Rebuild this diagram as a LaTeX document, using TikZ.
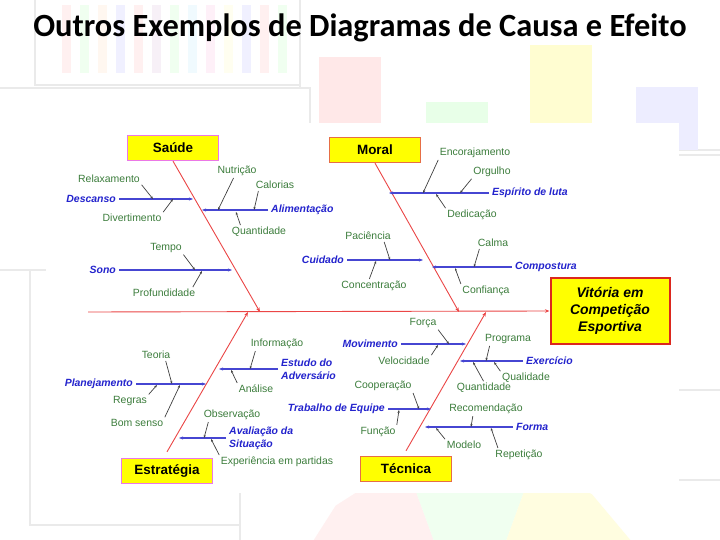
\documentclass[tikz,border=0pt]{standalone}
\usepackage{fontspec}
\setmainfont{Liberation Sans}
\newfontfamily\titlefont{Carlito}
\usetikzlibrary{positioning,arrows.meta,calc}
\definecolor{BoneRed}{RGB}{235,70,70}
\definecolor{CauseBlue}{RGB}{35,35,205}
\definecolor{BranchBlue}{RGB}{70,70,210}
\definecolor{LeafGreen}{RGB}{60,125,60}
\definecolor{BoxYellow}{RGB}{255,255,0}
\definecolor{EdgeMagenta}{RGB}{235,120,230}
\definecolor{EdgeOrange}{RGB}{230,110,70}
\definecolor{EffectRed}{RGB}{220,40,30}
\definecolor{FadeFrame}{RGB}{234,234,234}

\begin{document}
\begin{tikzpicture}[x=1bp, y=-1bp,
  every node/.style={inner sep=1pt},
  leaf/.style={font=\fontsize{10.5}{12}\selectfont, text=LeafGreen},
  cause/.style={font=\fontsize{10.5}{13}\selectfont\bfseries\itshape, text=CauseBlue, align=left},
  catbox/.style={draw, line width=1.3bp, fill=BoxYellow, minimum width=91bp, minimum height=25bp,
                 font=\fontsize{13.5}{15}\selectfont\bfseries},
  bone/.style={BoneRed, line width=0.9bp, -{Stealth[length=4.5bp,width=3.5bp]}},
  branch/.style={BranchBlue, line width=1.1bp, shorten <=2bp, -{Stealth[length=4bp,width=3bp]}},
  tick/.style={black!75, line width=0.7bp, shorten <=1bp, -{Stealth[length=3bp,width=2.2bp]}}]

  \useasboundingbox (0,0) rectangle (720,540);
  \fill[white] (0,0) rectangle (720,540);

  \draw[FadeFrame, line width=2bp, fill=white] (35,-5) rectangle (300,85);
  \foreach \x/\c in {62/red,80/green,98/orange,116/blue,134/red,152/violet,170/green,188/cyan,
                     206/magenta,224/yellow,242/blue,260/red,278/green}
    \fill[\c!6] (\x,5) rectangle ++(9,68);
  \draw[FadeFrame, line width=2bp, fill=white] (300,-5) rectangle (725,150);
  \fill[red!9] (319,57) rectangle (381,150);
  \fill[green!9] (426,102) rectangle (488,150);
  \fill[yellow!18] (530,45) rectangle (592,150);
  \fill[blue!7] (636,87) rectangle (698,150);
  \draw[FadeFrame, line width=2bp, fill=white] (-5,88) rectangle (310,270);
  \draw[FadeFrame, line width=2bp, fill=white] (640,155) rectangle (725,390);
  \draw[FadeFrame, line width=2bp, fill=white] (30,270) rectangle (260,525);
  \draw[FadeFrame, line width=2bp, fill=white] (240,480) rectangle (725,545);
  \fill[red!6] (470,640) -- +(200:190) -- +(225:190) -- +(250:190) -- cycle;
  \fill[green!6] (470,640) -- +(250:190) -- +(270:190) -- +(290:190) -- cycle;
  \fill[yellow!12] (470,640) -- +(290:190) -- +(310:190) -- +(330:190) -- cycle;
  \fill[blue!5] (470,640) -- +(330:190) -- +(345:190) -- +(360:190) -- cycle;

  \fill[white] (46,123) rectangle (679,493);

  \node[font=\titlefont\bfseries\fontsize{32.5}{38}\selectfont] (titulo) at (360,28)
    {Outros Exemplos de Diagramas de Causa e Efeito};

  \node[catbox, draw=EdgeMagenta] (saude) at (173,148) {Saúde};
  \node[catbox, draw=EdgeOrange] (moral) at (375,150) {Moral};
  \node[catbox, draw=EdgeMagenta] (estrategia) at (167,471) {Estratégia};
  \node[catbox, draw=EdgeOrange] (tecnica) at (406,469) {Técnica};
  \node[draw=EffectRed, line width=2bp, fill=BoxYellow, minimum width=119bp, minimum height=65bp,
        align=center, font=\fontsize{14}{17}\selectfont\bfseries\itshape] (vitoria) at (610,311)
    {Vitória em\\Competição\\Esportiva};

  \coordinate (cauda) at (88,312);
  \coordinate (saudeEnd) at (260,312);
  \coordinate (moralEnd) at (459,312);
  \coordinate (estrategiaEnd) at (248,312);
  \coordinate (tecnicaEnd) at (486,312);
  \draw[bone] (cauda) -- (vitoria.west);
  \draw[bone] (saude.south) -- (saudeEnd);
  \draw[bone] (moral.south) -- (moralEnd);
  \draw[bone] ([yshift=6bp]estrategia.north) -- (estrategiaEnd);
  \draw[bone] ([yshift=5bp]tecnica.north) -- (tecnicaEnd);

  \node[cause, anchor=east] (descanso) at (117,199) {Descanso};
  \node[cause, anchor=west] (alimentacao) at (270,210) {Alimentação};
  \node[cause, anchor=east] (sono) at (117,270) {Sono};
  \node[cause, anchor=east] (cuidado) at (345,260) {Cuidado};
  \node[cause, anchor=west] (espirito) at (491,193) {Espírito de luta};
  \node[cause, anchor=west] (compostura) at (514,267) {Compostura};
  \node[cause, anchor=west] (estudo) at (280,369) {Estudo do\\Adversário};
  \node[cause, anchor=east] (planejamento) at (134,384) {Planejamento};
  \node[cause, anchor=west] (avaliacao) at (228,438) {Avaliação da\\Situação};
  \node[cause, anchor=east] (movimento) at (399,344) {Movimento};
  \node[cause, anchor=west] (exercicio) at (525,361) {Exercício};
  \node[cause, anchor=east] (trabalho) at (386,409) {Trabalho de Equipe};
  \node[cause, anchor=west] (forma) at (515,427) {Forma};

  \foreach \n/\x/\y in {descanso/193/199, alimentacao/202/210, sono/232/270, cuidado/423/260,
                        espirito/389/193, compostura/432/267, estudo/219/369, planejamento/206/384,
                        avaliacao/179/438, movimento/466/344, exercicio/460/361, trabalho/431/409,
                        forma/425/427}
    \coordinate (\n-tip) at (\x,\y);
  \foreach \n in {descanso,sono,cuidado,espirito,compostura,estudo,planejamento,avaliacao,
                  movimento,trabalho,forma}
    \draw[branch] (\n) -- (\n-tip);
  \foreach \n in {alimentacao,exercicio}
    \draw[branch, line width=2.4bp] (\n) -- (\n-tip);

  \node[leaf] (relaxamento) at (109,179) {Relaxamento};
  \node[leaf] (divertimento) at (132,218) {Divertimento};
  \node[leaf] (nutricao) at (237,171) {Nutrição};
  \node[leaf] (calorias) at (275,185) {Calorias};
  \node[leaf] (quantidadeA) at (259,232) {Quantidade};
  \node[leaf] (tempo) at (166,248) {Tempo};
  \node[leaf] (profundidade) at (164,293) {Profundidade};
  \node[leaf] (encorajamento) at (475,153) {Encorajamento};
  \node[leaf] (orgulho) at (492,172) {Orgulho};
  \node[leaf] (dedicacao) at (472,215) {Dedicação};
  \node[leaf] (paciencia) at (368,236) {Paciência};
  \node[leaf] (concentracao) at (374,286) {Concentração};
  \node[leaf] (calma) at (493,243) {Calma};
  \node[leaf] (confianca) at (486,291) {Confiança};
  \node[leaf] (informacao) at (277,344) {Informação};
  \node[leaf] (analise) at (256,389) {Análise};
  \node[leaf] (teoria) at (156,355) {Teoria};
  \node[leaf] (regras) at (130,401) {Regras};
  \node[leaf] (bomsenso) at (137,423) {Bom senso};
  \node[leaf] (observacao) at (232,415) {Observação};
  \node[leaf] (experiencia) at (277,462) {Experiência em partidas};
  \node[leaf] (forca) at (423,323) {Força};
  \node[leaf] (velocidade) at (404,361) {Velocidade};
  \node[leaf] (programa) at (508,339) {Programa};
  \node[leaf] (qualidade) at (526,378) {Qualidade};
  \node[leaf] (quantidadeB) at (484,388) {Quantidade};
  \node[leaf] (cooperacao) at (383,386) {Cooperação};
  \node[leaf] (funcao) at (378,432) {Função};
  \node[leaf] (recomendacao) at (486,409) {Recomendação};
  \node[leaf] (modelo) at (464,445) {Modelo};
  \node[leaf] (repeticao) at (519,455) {Repetição};

  \foreach \n/\x/\y in {relaxamento/153/199, divertimento/173/199, nutricao/218/210,
                        calorias/254/210, quantidadeA/236/212, tempo/195/270, profundidade/202/271,
                        encorajamento/423/193, orgulho/460/193, dedicacao/436/194,
                        paciencia/390/260, concentracao/376/261, calma/474/267, confianca/455/268,
                        informacao/250/369, analise/231/370, teoria/172/384, regras/157/385,
                        bomsenso/180/385, observacao/204/438, experiencia/211/439,
                        forca/449/344, velocidade/438/345, programa/486/361, qualidade/494/362,
                        quantidadeB/473/362, cooperacao/419/409, funcao/399/410,
                        recomendacao/471/427, modelo/436/428, repeticao/491/428}
    \coordinate (\n-tip) at (\x,\y);
  \foreach \n/\a/\dx in {relaxamento/south east/0, divertimento/north east/0, nutricao/south/-3,
                         calorias/south west/4, quantidadeA/north west/10, tempo/south east/0,
                         profundidade/north east/-4, encorajamento/south west/0, orgulho/south west/0,
                         dedicacao/north west/0, paciencia/south east/-8, concentracao/north/-5,
                         calma/south west/3, confianca/north west/0, informacao/south west/6,
                         analise/north west/0, teoria/south east/-6, regras/north east/0,
                         bomsenso/north east/0, observacao/south west/6, experiencia/north west/0,
                         forca/south east/0, velocidade/north east/0, programa/south west/6,
                         qualidade/north west/0, quantidadeB/north/0, cooperacao/south east/0,
                         funcao/north east/0, recomendacao/south/-13, modelo/north west/0,
                         repeticao/north west/4}
    \draw[tick] ([xshift=\dx bp]\n.\a) -- (\n-tip);
\end{tikzpicture}
\end{document}
